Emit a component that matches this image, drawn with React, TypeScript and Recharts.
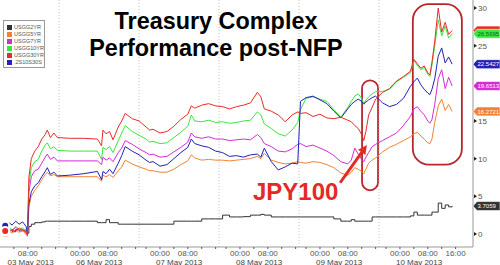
import { LineChart, Line, XAxis, YAxis, ReferenceLine, ReferenceArea, ReferenceDot } from "recharts";

// trading-hour axis: each day block runs 18:00 (prev) -> 17:00, so day i hour h sits at 23 * i + h
const times = [
  1.5, 2.5, 3.5, 4.5, 5.5, 6.5, 7.5, 7.9, 8.3, 9,
  10, 11, 12, 13, 13.6, 14.5, 15.5, 16.5, 20, 24,
  28, 29.2, 29.6, 30.5, 31.5, 32.5, 34, 35, 36, 38,
  40, 42, 43, 44, 46, 48, 50, 52, 54, 55,
  56, 58, 60, 62, 64, 66, 68, 70, 72, 74,
  75, 76, 78, 80, 82, 84, 85.6, 86.4, 88, 90,
  92, 94, 96, 98, 100, 101, 102, 103, 104, 104.6,
  105.2, 106, 107, 108, 110, 112, 114, 116, 118, 119,
  120, 121, 122, 123, 123.6, 124.2, 125, 126, 127, 128,
  129, 130,
];

const usgg30 = [
  0.4, 0.2, 0.6, 0.3, 0.8, 0.5, 0.3, -0.1, 7.5, 10.0,
  11.0, 11.6, 12.6, 13.2, 13.8, 12.8, 13.4, 12.8, 12.7, 12.7,
  12.6, 11.7, 13.8, 13.3, 13.6, 12.5, 14.2, 15.0, 16.0, 15.3,
  15.0, 14.2, 13.8, 13.9, 13.4, 13.6, 14.3, 15.2, 15.9, 17.0,
  16.7, 17.1, 17.3, 17.0, 16.9, 16.6, 16.9, 17.1, 17.4, 18.8,
  18.2, 16.6, 16.3, 15.8, 14.9, 15.8, 16.2, 16.0, 16.1, 15.6,
  15.9, 15.4, 15.3, 15.5, 15.1, 14.9, 14.4, 14.0, 13.2, 12.4,
  13.6, 15.8, 16.8, 17.9, 18.8, 19.3, 20.3, 20.9, 21.6, 23.2,
  22.6, 22.0, 22.3, 21.4, 21.1, 22.8, 25.6, 30.0, 26.8, 28.1,
  26.5, 27.0,
];

const usgg10 = [
  0.6, 0.9, 0.5, 1.0, 0.6, 0.8, 0.4, 0.0, 6.5, 8.8,
  9.6, 9.9, 11.0, 11.8, 12.1, 11.3, 11.6, 11.1, 11.0, 11.0,
  11.0, 9.9, 11.5, 11.2, 11.6, 10.8, 12.4, 13.4, 14.4, 13.6,
  13.1, 12.6, 12.2, 12.3, 12.0, 12.1, 12.8, 13.5, 14.3, 15.8,
  15.0, 14.9, 15.1, 14.8, 14.9, 14.7, 14.8, 15.0, 15.1, 16.2,
  15.8, 14.6, 14.0, 13.3, 13.0, 13.8, 14.8, 16.5, 18.0, 18.2,
  17.9, 17.6, 16.5, 15.5, 16.8, 17.6, 18.3, 18.6, 18.0, 17.2,
  17.8, 18.2, 18.6, 18.9, 18.9, 19.2, 20.2, 20.8, 21.4, 23.0,
  22.4, 21.8, 22.1, 21.2, 20.9, 22.4, 25.0, 28.4, 26.3, 27.6,
  26.0, 26.5695,
];

const usgg7 = [
  0.3, 0.7, 0.4, 0.9, 0.5, 0.6, 0.2, -0.2, 5.5, 7.6,
  8.4, 8.6, 9.4, 10.2, 10.6, 9.9, 10.2, 9.7, 9.7, 9.7,
  9.7, 9.2, 10.2, 9.8, 10.1, 9.6, 10.8, 11.4, 12.4, 11.9,
  11.3, 10.8, 10.5, 10.6, 10.2, 10.3, 10.9, 11.5, 12.2, 13.4,
  12.9, 12.7, 12.9, 12.6, 12.6, 12.4, 12.5, 12.6, 12.5, 13.2,
  12.8, 12.0, 11.6, 11.0, 10.9, 11.3, 11.9, 12.0, 11.6, 11.8,
  11.4, 11.0, 10.4, 9.6, 9.3, 9.8, 11.4, 10.6, 9.9, 9.6,
  10.2, 10.8, 11.6, 11.9, 12.4, 12.9, 13.4, 14.4, 15.6, 16.6,
  16.9, 16.3, 15.8, 15.0, 14.7, 15.2, 17.2, 20.6, 21.8, 19.3,
  20.8, 19.6513,
];

const fly21030 = [
  1.1, 1.5, 1.2, 1.7, 1.3, 1.6, 1.0, 0.0, 4.0, 5.6,
  6.4, 6.8, 7.6, 8.3, 8.8, 7.9, 8.2, 7.7, 7.8, 8.0,
  8.3, 7.2, 8.3, 8.0, 8.6, 8.0, 9.4, 10.4, 11.6, 11.0,
  10.5, 9.8, 9.5, 9.6, 9.0, 9.2, 10.0, 10.8, 11.5, 12.6,
  12.0, 11.7, 11.5, 11.0, 10.8, 10.3, 10.4, 10.2, 10.5, 10.6,
  10.2, 11.4, 9.6, 8.5, 8.9, 9.4, 9.3, 17.6, 18.1, 18.3,
  17.8, 17.3, 16.3, 15.4, 16.6, 17.2, 17.6, 17.9, 17.6, 17.3,
  17.5, 17.8, 18.1, 18.3, 17.4, 16.9, 17.2, 18.0, 19.6, 20.2,
  20.7, 19.8, 19.2, 18.7, 18.5, 19.2, 20.6, 23.6, 24.7, 22.7,
  23.5, 22.5427,
];

const usgg5 = [
  0.0, 0.4, 0.1, 0.6, 0.2, 0.5, -0.1, -0.3, 3.6, 5.0,
  5.8, 6.4, 7.2, 7.9, 8.2, 7.7, 7.9, 7.6, 7.6, 7.6,
  7.6, 7.0, 7.8, 7.6, 7.9, 7.5, 8.4, 8.9, 9.8, 9.3,
  8.9, 8.6, 8.4, 8.4, 8.2, 8.2, 8.6, 9.2, 9.7, 10.5,
  10.1, 9.8, 9.9, 9.8, 9.8, 9.7, 9.8, 9.9, 10.0, 10.3,
  10.0, 10.7, 9.8, 9.5, 9.3, 9.4, 9.6, 9.5, 9.4, 9.6,
  9.5, 9.2, 8.8, 8.1, 7.8, 8.2, 8.8, 8.6, 8.3, 8.0,
  8.6, 9.4, 9.8, 10.1, 10.9, 11.5, 11.9, 12.4, 12.9, 13.3,
  13.5, 13.0, 12.6, 12.1, 12.0, 12.6, 14.8, 17.0, 17.9, 16.4,
  17.2, 16.2721,
];

const usgg2 = [
  0.4, 0.5, 0.3, 0.6, 0.4, 0.5, 0.2, 0.1, 1.0, 1.3,
  1.5, 1.5, 1.6, 1.7, 1.7, 1.7, 1.7, 1.7, 1.7, 1.7,
  1.5, 1.5, 1.5, 1.9, 1.5, 1.5, 1.3, 1.3, 1.3, 1.3,
  1.3, 1.3, 1.3, 1.3, 1.3, 1.3, 1.7, 1.7, 1.7, 1.7,
  1.7, 2.0, 2.0, 2.0, 2.5, 2.26, 2.26, 2.3, 2.5, 2.5,
  2.6, 2.5, 2.26, 2.26, 2.26, 2.26, 2.26, 2.26, 2.26, 2.26,
  2.26, 2.26, 2.0, 1.7, 1.7, 1.9, 1.7, 1.7, 1.7, 1.7,
  1.7, 1.7, 2.26, 2.26, 2.26, 2.26, 2.26, 2.26, 2.4, 2.9,
  2.5, 2.5, 2.5, 2.5, 2.5, 2.9, 2.9, 4.1, 3.4, 3.85,
  3.6, 3.7059,
];

const dayLabels = ["03 May 2013", "06 May 2013", "07 May 2013", "08 May 2013", "09 May 2013", "10 May 2013"];
const dayTimeLabels = [
  ["08:00"],
  ["00:00", "08:00"],
  ["00:00", "08:00"],
  ["00:00", "08:00"],
  ["00:00", "08:00"],
  ["00:00", "08:00", "16:00"],
];
// 20 sits under the USGG7YR value tag in the original, so it is not drawn
const yTicks = [0, 5, 10, 15, 25, 30];

const HOURS = 23;
const X_MAX = 136;

const series = [
  { key: "k", name: "USGG2YR", color: "#333333", values: usgg2, step: true, text: "#fff", tag: true },
  { key: "o", name: "USGG5YR", color: "#f28232", values: usgg5, step: false, text: "#fff", tag: true },
  { key: "m", name: "USGG7YR", color: "#d62ad6", values: usgg7, step: false, text: "#fff", tag: true },
  { key: "g", name: "USGG10YR", color: "#3ce63c", values: usgg10, step: false, text: "#063", tag: true },
  { key: "b", name: ".2S10S30S", color: "#2222b4", values: fly21030, step: false, text: "#fff", tag: true },
  { key: "r", name: "USGG30YR", color: "#ea2a2a", values: usgg30, step: false, text: "#fff", tag: false },
];
const legendOrder = ["k", "o", "m", "g", "r", "b"];

const data = times.map((t, i) => {
  const row: Record<string, number> = { t };
  series.forEach((s) => (row[s.key] = s.values[i]));
  return row;
});

const pad = (h: number) => `${String(h).padStart(2, "0")}:00`;

const timeTicks: number[] = [];
const timeTickLabel: Record<number, string> = {};
dayLabels.forEach((_, i) => {
  [-4, 0, 4, 8, 12, 16].forEach((h) => {
    const t = HOURS * i + h;
    if (t <= 0 || t >= X_MAX) return;
    timeTicks.push(t);
    if (dayTimeLabels[i].includes(pad(h))) timeTickLabel[t] = pad(h);
  });
});
const dayTicks = dayLabels.map((_, i) => (i === 0 ? 8.8 : HOURS * i + 5.5));
const dayBreaks = dayLabels.slice(1).map((_, i) => HOURS * i + 17);

function TimeTick(props: any) {
  const { x, y, payload } = props;
  const label = timeTickLabel[payload.value];
  return (
    <g>
      <line x1={x} x2={x} y1={y} y2={y + 2} stroke="#555" />
      {label && (
        <text x={x} y={y + 9} textAnchor="middle" fontSize={8} fill="#555">
          {label}
        </text>
      )}
    </g>
  );
}

function DayTick(props: any) {
  const { x, y, index } = props;
  return (
    <text x={x} y={y + 7.5} textAnchor="middle" fontSize={8} fill="#444">
      {dayLabels[index]}
    </text>
  );
}

function ValueTick(props: any) {
  const { x, y, payload } = props;
  return (
    <g>
      <path d={`M${x + 1} ${y - 2}L${x + 4} ${y}L${x + 1} ${y + 2}Z`} fill="#222" />
      <text x={x + 5} y={y + 3} fontSize={8} fill="#555">
        {payload.value}
      </text>
    </g>
  );
}

function makeTag(color: string, text: string, label: string) {
  return (props: any) => {
    const { cx, cy } = props;
    return (
      <g>
        <path
          d={`M${cx} ${cy}L${cx + 4} ${cy - 4.5}L${cx + 27} ${cy - 4.5}L${cx + 27} ${cy + 4.5}L${cx + 4} ${cy + 4.5}Z`}
          fill={color}
          stroke="#fff"
          strokeWidth={0.6}
        />
        {label && (
          <text x={cx + 4.5} y={cy + 2.2} fontSize={6} fill={text}>
            {label}
          </text>
        )}
      </g>
    );
  };
}

function RoundBox(props: any) {
  const { x, y, width, height, r } = props;
  return <rect x={x} y={y} width={width} height={height} rx={r} ry={r} fill="none" stroke="#b8262c" strokeWidth={1.8} />;
}

function Arrow(props: any) {
  const { x1, y1, x2, y2 } = props;
  const a = Math.atan2(y2 - y1, x2 - x1);
  const L = 9;
  const W = 4.5;
  const bx = x2 - L * Math.cos(a);
  const by = y2 - L * Math.sin(a);
  const px = -Math.sin(a) * W;
  const py = Math.cos(a) * W;
  return (
    <g>
      <line x1={x1} y1={y1} x2={bx} y2={by} stroke="#e52a26" strokeWidth={3} />
      <path d={`M${x2} ${y2}L${bx + px} ${by + py}L${bx - px} ${by - py}Z`} fill="#e52a26" />
    </g>
  );
}

const lastIdx = times.length - 1;
const tagOrder = ["r", "g", "b", "m", "o", "k"];

export default function App() {
  return (
    <div style={{ position: "absolute", left: 0, top: 0, width: 500, height: 265, background: "#fff", fontFamily: "'Liberation Sans', Arial, sans-serif" }}>
      <LineChart width={500} height={265} data={data} margin={{ top: 0, right: 0, bottom: 0, left: 0 }}>
        <XAxis
          xAxisId="a"
          dataKey="t"
          type="number"
          domain={[0, X_MAX]}
          ticks={timeTicks}
          interval={0}
          height={10}
          tickSize={0}
          tickMargin={0}
          tickLine={false}
          stroke="#999"
          tick={(p: any) => <TimeTick {...p} />}
        />
        <XAxis
          xAxisId="z"
          dataKey="t"
          type="number"
          domain={[0, X_MAX]}
          ticks={dayTicks}
          interval={0}
          height={8}
          tickSize={0}
          tickMargin={0}
          tickLine={false}
          axisLine={false}
          tick={(p: any) => <DayTick {...p} />}
        />
        <YAxis
          orientation="right"
          type="number"
          domain={[-1.73, 31.06]}
          ticks={yTicks}
          interval={0}
          width={27}
          tickSize={0}
          tickMargin={0}
          tickLine={false}
          stroke="#999"
          tick={(p: any) => <ValueTick {...p} />}
        />
        {dayBreaks.map((t) => (
          <ReferenceLine key={t} xAxisId="a" x={t} stroke="#c4c4c4" strokeDasharray="1 2" />
        ))}
        {series.map((s) => (
          <Line
            key={s.key}
            xAxisId="a"
            dataKey={s.key}
            type={s.step ? "stepAfter" : "linear"}
            stroke={s.color}
            strokeWidth={1}
            dot={false}
            isAnimationActive={false}
          />
        ))}
        <ReferenceArea xAxisId="a" x1={104.1} x2={108.7} y1={5.8} y2={20.4} shape={(p: any) => <RoundBox {...p} r={8} />} />
        <ReferenceArea xAxisId="a" x1={118.7} x2={132.8} y1={9.2} y2={30.5} shape={(p: any) => <RoundBox {...p} r={16} />} />
        <ReferenceLine
          xAxisId="a"
          segment={[
            { x: 97.8, y: 6.8 },
            { x: 105.5, y: 11.8 },
          ]}
          shape={(p: any) => <Arrow {...p} />}
        />
        {tagOrder.map((k) => {
          const s = series.find((q) => q.key === k)!;
          const v = s.values[lastIdx];
          return (
            <ReferenceDot
              key={k}
              xAxisId="a"
              x={X_MAX}
              y={v}
              shape={makeTag(s.color, s.text, s.tag ? v.toFixed(4) : "")}
            />
          );
        })}
      </LineChart>
      <div
        style={{
          position: "absolute",
          left: 0,
          top: 8,
          width: 432,
          textAlign: "center",
          fontWeight: "bold",
          fontSize: 23.4,
          lineHeight: "27px",
          color: "#000",
        }}
      >
        Treasury Complex
        <br />
        Performance post-NFP
      </div>
      <div
        style={{
          position: "absolute",
          left: 253,
          top: 180,
          fontWeight: "bold",
          fontSize: 24,
          lineHeight: "24px",
          color: "#e52a26",
        }}
      >
        JPY100
      </div>
      <div
        style={{
          position: "absolute",
          left: 3,
          top: 20,
          width: 42,
          height: 48,
          border: "1px solid #9a9a9a",
          background: "#fff",
          boxSizing: "border-box",
          paddingTop: 3,
        }}
      >
        {legendOrder.map((k) => {
          const s = series.find((q) => q.key === k)!;
          return (
            <div key={k} style={{ display: "flex", alignItems: "center", height: 7, paddingLeft: 3 }}>
              <span style={{ width: 5, height: 5, background: s.color, display: "inline-block", marginRight: 2 }} />
              <span style={{ fontSize: 5.5, color: "#555", lineHeight: "7px" }}>{s.name}</span>
            </div>
          );
        })}
      </div>
    </div>
  );
}
